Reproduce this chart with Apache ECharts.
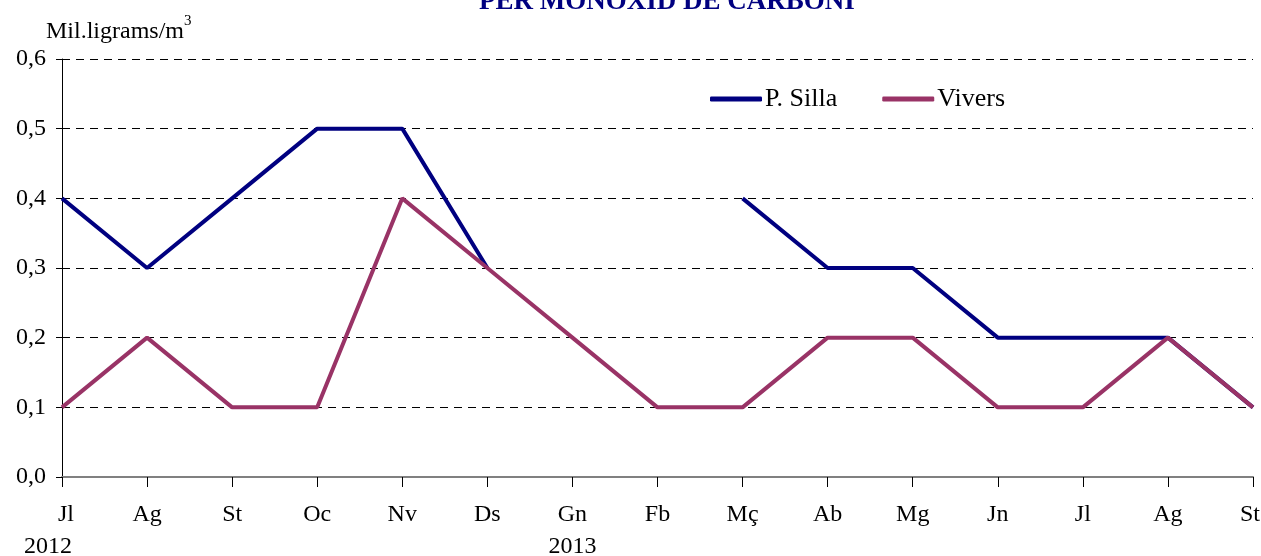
<!DOCTYPE html>
<html>
<head>
<meta charset="utf-8" />
<title>Monòxid de carboni</title>
<script src="https://cdn.jsdelivr.net/npm/echarts@6/dist/echarts.min.js"></script>
<style>
  html, body { margin: 0; padding: 0; background: #fff; }
  #main { width: 1261px; height: 556px; }
</style>
</head>
<body>
<div id="main"></div>
<script type="text/javascript">
    // mesos (jul 2012 - set 2013)
    var mesos = ['Jl', 'Ag', 'St', 'Oc', 'Nv', 'Ds', 'Gn', 'Fb', 'Mç', 'Ab', 'Mg', 'Jn', 'Jl', 'Ag', 'St'];
    var anys = {0: '2012', 6: '2013'};
    var pSilla = [0.4, 0.3, 0.4, 0.5, 0.5, 0.3, null, null, 0.4, 0.3, 0.3, 0.2, 0.2, 0.2, 0.1];
    var vivers = [0.1, 0.2, 0.1, 0.1, 0.4, 0.3, 0.2, 0.1, 0.1, 0.2, 0.2, 0.1, 0.1, 0.2, 0.1];

    var font = '"Liberation Serif", "Times New Roman", serif';
    var myChart = echarts.init(document.getElementById('main'));

    var option = {
        backgroundColor: '#fff',
        animation: false,
        textStyle: { fontFamily: font },
        title: {
            text: 'PER MONÒXID DE CARBONI',
            left: 662,
            textAlign: 'center',
            top: -16,
            textStyle: { color: '#000080', fontWeight: 'bold', fontSize: 27, fontFamily: font }
        },
        graphic: [{
            type: 'text',
            left: 46,
            top: 14,
            style: {
                text: '{a|Mil.ligrams/m}{s|3}',
                rich: {
                    a: { fontSize: 24, fontFamily: font, fill: '#000', verticalAlign: 'bottom', lineHeight: 30 },
                    s: { fontSize: 15, fontFamily: font, fill: '#000', verticalAlign: 'top', lineHeight: 30, padding: [0, 0, 14, 0] }
                }
            }
        }],
        legend: {
            left: 705,
            top: 81,
            itemWidth: 52,
            itemHeight: 5,
            itemGap: 45,
            icon: 'roundRect',
            textStyle: { fontSize: 26, fontFamily: font, color: '#000', padding: [0, 0, 0, -2] },
            data: ['P. Silla', 'Vivers']
        },
        grid: {
            left: 62,
            right: 8,
            top: 59,
            bottom: 79,
            outerBoundsMode: 'none'
        },
        xAxis: {
            type: 'category',
            data: mesos,
            boundaryGap: false,
            axisLine: { lineStyle: { color: '#808080', width: 2 } },
            axisTick: { show: true, alignWithLabel: true, length: 10, lineStyle: { color: '#000', width: 1 } },
            axisLabel: {
                interval: 0,
                margin: 22,
                color: '#000',
                fontSize: 24,
                fontFamily: font,
                lineHeight: 32,
                formatter: function (v, i) {
                    // el primer any queda desplaçat a l'esquerra, com a l'original
                    if (i === 0) return '{m|' + v + '}\n{y0|' + anys[i] + '}';
                    if (i === mesos.length - 1) return '{e|' + v + '}';
                    return anys[i] ? v + '\n' + anys[i] : v;
                },
                rich: {
                    m: { fontSize: 24, fontFamily: font, color: '#000', lineHeight: 32, padding: [0, 0, 0, 8] },
                    y0: { fontSize: 24, fontFamily: font, color: '#000', lineHeight: 32, padding: [0, 28, 0, 0] },
                    e: { fontSize: 24, fontFamily: font, color: '#000', lineHeight: 32, padding: [0, 6, 0, 0] }
                }
            }
        },
        yAxis: {
            type: 'value',
            min: 0,
            max: 0.6,
            interval: 0.1,
            axisLine: { show: true, lineStyle: { color: '#000', width: 1 } },
            axisTick: { show: true, length: 6, lineStyle: { color: '#000' } },
            splitLine: { lineStyle: { color: '#000', type: [8, 6], width: 1 } },
            axisLabel: {
                color: '#000',
                fontSize: 24,
                fontFamily: font,
                margin: 16,
                formatter: function (v) { return v.toFixed(1).replace('.', ','); }
            }
        },
        series: [
            {
                name: 'P. Silla',
                type: 'line',
                data: pSilla,
                connectNulls: false,
                showSymbol: false,
                symbol: 'none',
                itemStyle: { color: '#000080' },
                lineStyle: { color: '#000080', width: 4 }
            },
            {
                name: 'Vivers',
                type: 'line',
                data: vivers,
                showSymbol: false,
                symbol: 'none',
                itemStyle: { color: '#993366' },
                lineStyle: { color: '#993366', width: 4 }
            }
        ]
    };

    myChart.setOption(option);
</script>
</body>
</html>
